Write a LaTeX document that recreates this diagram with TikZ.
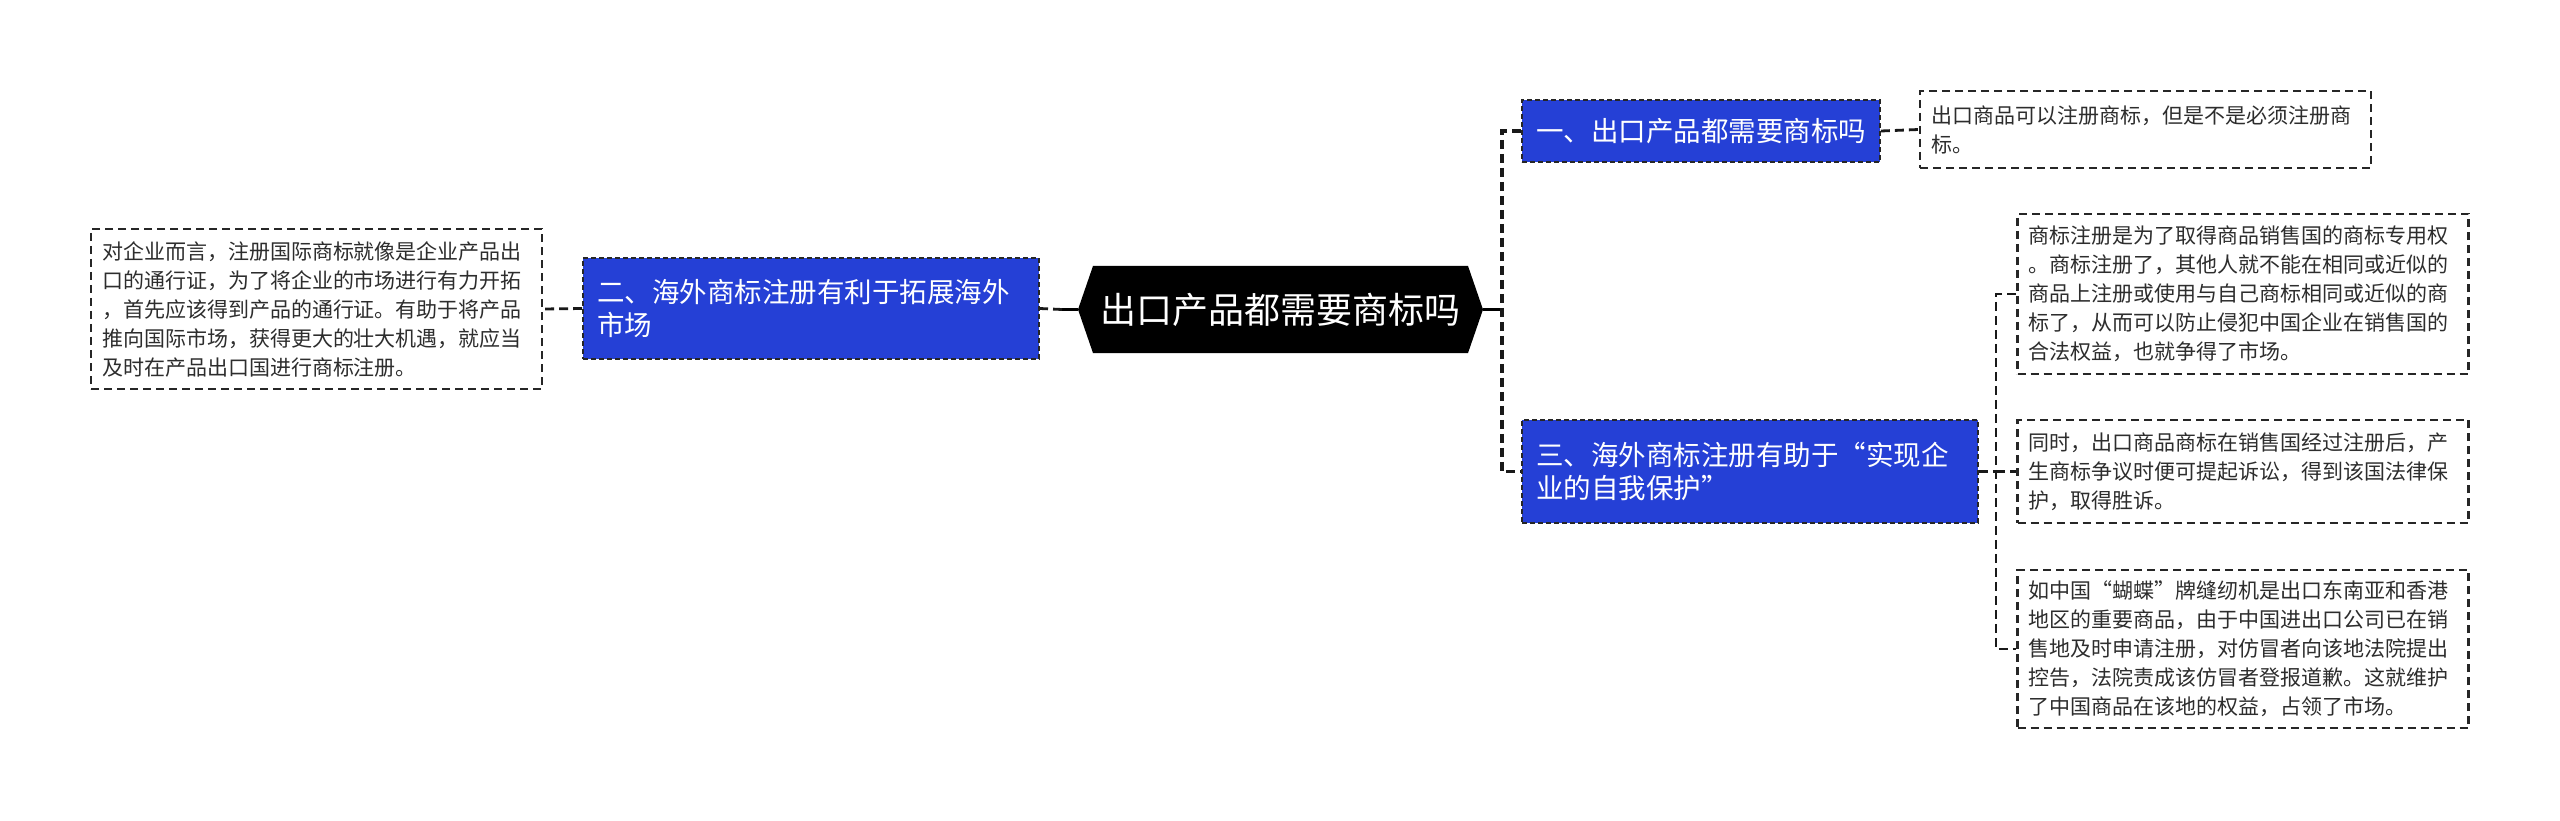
\documentclass[tikz,border=0pt]{standalone}
\usepackage{fontspec}
\newfontfamily\cjk{Noto Sans CJK SC}
\usetikzlibrary{shapes.symbols}
\definecolor{topicblue}{RGB}{37,64,214}
\definecolor{leaftext}{RGB}{45,45,45}
\begin{document}
\begin{tikzpicture}[x=1pt,y=-1pt,
    link/.style={line width=2.8pt,dash pattern=on 9pt off 5pt,black!90},
    rootbox/.style={signal,signal to=west and east,signal pointer angle=142,
      fill=black,text=white,minimum width=405pt,minimum height=87pt,inner sep=0pt,
      font=\cjk\fontsize{36}{40}\selectfont},
    topic/.style={fill=topicblue,draw=black!85,line width=1.8pt,dash pattern=on 5pt off 3pt,
      text=white,align=left,inner xsep=14pt,inner ysep=0pt,
      font=\cjk\fontsize{27.5}{33}\selectfont},
    leaf/.style={draw=black!85,fill=white,line width=2.6pt,dash pattern=on 8pt off 5pt,
      text=leaftext,align=left,inner xsep=11pt,inner ysep=0pt,text width=429pt,
      font=\cjk\fontsize{21}{29}\selectfont}]
  \useasboundingbox (0,0) rectangle (2560,821);
  % centre
  \node[rootbox] (root) at (1280.5,309.5) {出口产品都需要商标吗};
  % topics
  \node[topic,text width=330pt,minimum height=62pt] (b1) at (1701,131) {一、出口产品都需要商标吗};
  \node[topic,text width=428pt,minimum height=101pt] (b2) at (811,308.5)
    {二、海外商标注册有利于拓展海外\\市场};
  \node[topic,text width=428pt,minimum height=103pt] (b3) at (1750,471.5)
    {三、海外商标注册有助于“实现企\\业的自我保护”};
  % leaves
  \node[leaf,minimum height=77pt] (l1) at (2145.5,129.5)
    {出口商品可以注册商标，但是不是必须注册商\\标。};
  \node[leaf,minimum height=160pt] (l2) at (316.5,309)
    {对企业而言，注册国际商标就像是企业产品出\\口的通行证，为了将企业的市场进行有力开拓\\，首先应该得到产品的通行证。有助于将产品\\推向国际市场，获得更大的壮大机遇，就应当\\及时在产品出口国进行商标注册。};
  \node[leaf,minimum height=160pt] (l3a) at (2243,294)
    {商标注册是为了取得商品销售国的商标专用权\\。商标注册了，其他人就不能在相同或近似的\\商品上注册或使用与自己商标相同或近似的商\\标了，从而可以防止侵犯中国企业在销售国的\\合法权益，也就争得了市场。};
  \node[leaf,minimum height=103pt] (l3b) at (2243,471.5)
    {同时，出口商品商标在销售国经过注册后，产\\生商标争议时便可提起诉讼，得到该国法律保\\护，取得胜诉。};
  \node[leaf,minimum height=158pt] (l3c) at (2243,649)
    {如中国“蝴蝶”牌缝纫机是出口东南亚和香港\\地区的重要商品，由于中国进出口公司已在销\\售地及时申请注册，对仿冒者向该地法院提出\\控告，法院责成该仿冒者登报道歉。这就维护\\了中国商品在该地的权益，占领了市场。};
  % joints
  \coordinate (trunkR) at (1502,309.5);
  \coordinate (trunkL) at (1062,309.5);
  \coordinate (trunk3) at (1996,471.5);
  \begin{scope}[line width=2.8pt]
    \draw (root.east) -- (trunkR);
    \draw (root.west) -- (trunkL);
  \end{scope}
  \draw[link,line width=3.2pt] (b1.west) -| (trunkR) |- (b3.west);
  \draw[link] (trunkL) -- (b2.east);
  \draw[link] (b2.west) -- (l2.east);
  \draw[link] (b1.east) -- (l1.west);
  \draw[link] (b3.east) -- (trunk3);
  \draw[link,line width=2.4pt] (l3a.west) -| (trunk3) |- (l3c.west);
  \draw[link] (trunk3) -- (l3b.west);
\end{tikzpicture}
\end{document}
